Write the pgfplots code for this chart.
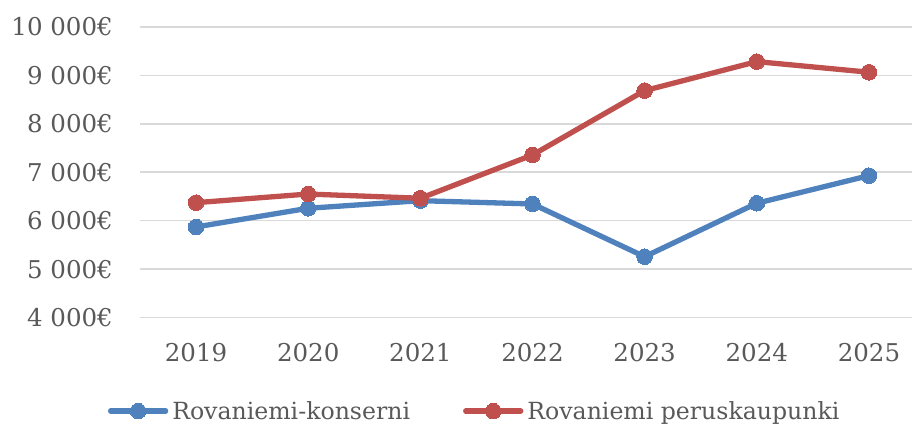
\documentclass[border=0pt]{standalone}
\usepackage{fontspec}
\setmainfont{DejaVu Serif}
\usepackage{pgfplots}
\pgfplotsset{compat=1.18}
\definecolor{blu}{HTML}{4F81BD}
\definecolor{rd}{HTML}{C0504D}
\definecolor{txt}{HTML}{595959}
\definecolor{grd}{HTML}{D9D9D9}
\begin{document}
\begin{tikzpicture}[x=1pt,y=1pt]
\begin{axis}[
  at={(140pt,105.5pt)}, anchor=south west,
  scale only axis, width=785pt, height=290.5pt,
  xmin=-0.5, xmax=6.5, ymin=4000, ymax=10000,
  scaled y ticks=false,
  xtick={0,1,2,3,4,5,6},
  xticklabels={2019,2020,2021,2022,2023,2024,2025},
  ytick={4000,5000,6000,7000,8000,9000,10000},
  yticklabels={4 000€,5 000€,6 000€,7 000€,8 000€,9 000€,10 000€},
  axis line style={draw=none}, major tick length=0pt,
  ymajorgrids, grid style={grd, line width=1.5pt},
  ticklabel style={font=\fontsize{24.5}{28}\selectfont, text=txt, inner sep=0pt},
  yticklabel style={anchor=east, xshift=-27pt},
  xticklabel style={anchor=north, yshift=-26pt},
  clip=false,
  legend columns=2,
  legend style={at={(-0.0408,-0.322)}, anchor=west, draw=none, fill=none,
    inner sep=0pt, outer sep=0pt, font=\fontsize{23.6}{28}\selectfont, text=txt,
    nodes={inner sep=0pt},
    /tikz/every odd column/.append style={column sep=4pt},
    /tikz/every even column/.append style={column sep=53pt}},
  legend image code/.code={\draw[mark repeat=2,mark phase=2,#1] plot coordinates {(0pt,0pt) (27.5pt,0pt) (55pt,0pt)};},
]
\addplot[blu, line width=5.3pt, line join=round, line cap=round, mark=*, mark size=7.8pt, mark options={solid, fill=blu, draw=blu, line width=0pt}]
  coordinates {(0,5870) (1,6256) (2,6413) (3,6345) (4,5256) (5,6360) (6,6930)};
\addlegendentry{Rovaniemi-konserni}
\addplot[rd, line width=5.3pt, line join=round, line cap=round, mark=*, mark size=7.8pt, mark options={solid, fill=rd, draw=rd, line width=0pt}]
  coordinates {(0,6372) (1,6550) (2,6463) (3,7357) (4,8686) (5,9285) (6,9066)};
\addlegendentry{Rovaniemi peruskaupunki}
\end{axis}
\pgfresetboundingbox
\useasboundingbox (0,0) rectangle (912,423);
\end{tikzpicture}
\end{document}
